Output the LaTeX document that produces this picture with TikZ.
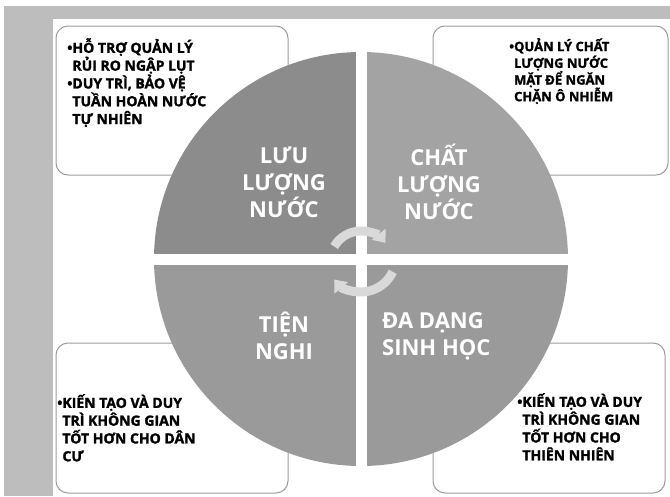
\documentclass[tikz,border=0pt]{standalone}
\usepackage{fontspec}
\setmainfont{Open Sans}
\newfontfamily\heavyfont{Open Sans}[BoldFeatures={FakeBold=1.6}]
\usetikzlibrary{arrows.meta}
\definecolor{bggray}{HTML}{BDBDBD}
\definecolor{quadTL}{HTML}{8C8C8C}
\definecolor{quadTR}{HTML}{A3A3A3}
\definecolor{quadBL}{HTML}{9A9A9A}
\definecolor{quadBR}{HTML}{9A9A9A}
\definecolor{cyclegray}{HTML}{D9D9D9}
\definecolor{boxline}{HTML}{9C9C9C}

\begin{document}
\begin{tikzpicture}[x=1pt,y=1pt,
notebox/.style={draw=boxline,fill=white,line width=1pt,rounded corners=12pt},
notetext/.style={anchor=north west,inner sep=0pt,align=left,font=\heavyfont\bfseries\fontsize{14}{17.8}\selectfont},
quadlabel/.style={text=white,inner sep=0pt,font=\bfseries\fontsize{22}{27}\selectfont},
cyclearrow/.style={cyclegray,line width=9pt,-{Triangle[width=17pt,length=11pt]}}]
\useasboundingbox (0,0) rectangle (670,-496);
\fill[white] (0,0) rectangle (670,-496);
\fill[bggray] (4,-6) rectangle (670,-496);
\fill[white] (53,-19) rectangle (670,-496);
% note boxes behind the circle
\draw[notebox] (56,-26) rectangle (288,-175);
\draw[notebox] (433,-26) rectangle (668,-175);
\draw[notebox] (56,-343) rectangle (288,-493);
\draw[notebox] (433,-343) rectangle (665,-493);
% four quadrants
\coordinate (ctr) at (361,-259);
\foreach \a/\c in {90/quadTL,0/quadTR,180/quadBL,270/quadBR}{
\fill[\c] (ctr) -- ++(\a:207) arc (\a:\a+90:207) -- cycle;
}
\draw[white,line width=11pt] (361,-45) -- (361,-472);
\draw[white,line width=11pt] (148,-259) -- (574,-259);
% cycle arrows
\coordinate (topc) at (361,-262);
\coordinate (botc) at (361,-257);
\draw[cyclearrow] (topc) ++(150:31) arc (150:38:31);
\draw[cyclearrow] (botc) ++(-25:35) arc (-25:-140:35);
% labels
\node[quadlabel,align=center] (flow) at (284,-182) {LƯU\\LƯỢNG\\NƯỚC};
\node[quadlabel,align=center] (quality) at (439,-182) {CHẤT\\LƯỢNG\\NƯỚC};
\node[quadlabel,align=center] (amenity) at (284,-336) {TIỆN\\NGHI};
\node[quadlabel,align=left,anchor=west] (biodiv) at (382,-336) {ĐA DẠNG\\SINH HỌC};
% note texts
\node[notetext] (flownote) at (67,-38) {•HỖ TRỢ QUẢN LÝ\\\phantom{•}RỦI RO NGẬP LỤT\\•DUY TRÌ, BẢO VỆ\\\phantom{•}TUẦN HOÀN NƯỚC\\\phantom{•}TỰ NHIÊN};
\node[notetext,font=\heavyfont\bfseries\fontsize{13}{16.7}\selectfont] (qualitynote) at (509,-38) {•QUẢN LÝ CHẤT\\\phantom{•}LƯỢNG NƯỚC\\\phantom{•}MẶT ĐỂ NGĂN\\\phantom{•}CHẶN Ô NHIỄM};
\node[notetext] (amenitynote) at (57,-394) {•KIẾN TẠO VÀ DUY\\\phantom{•}TRÌ KHÔNG GIAN\\\phantom{•}TỐT HƠN CHO DÂN\\\phantom{•}CƯ};
\node[notetext] (biodivnote) at (517,-393) {•KIẾN TẠO VÀ DUY\\\phantom{•}TRÌ KHÔNG GIAN\\\phantom{•}TỐT HƠN CHO\\\phantom{•}THIÊN NHIÊN};
\end{tikzpicture}
\end{document}
